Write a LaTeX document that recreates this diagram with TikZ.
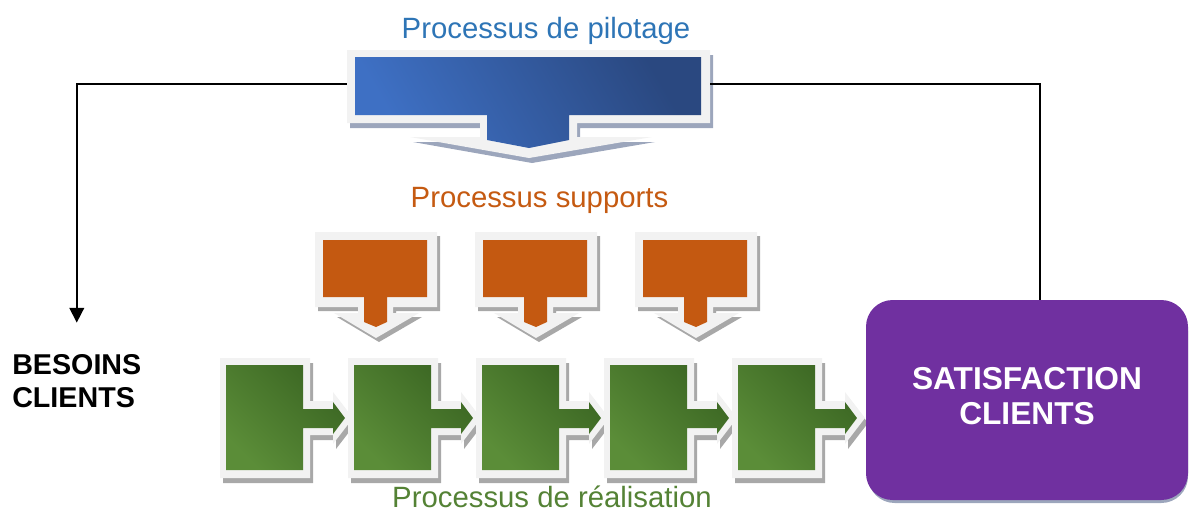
\documentclass[tikz,border=0pt]{standalone}
\usepackage{fontspec}
\setmainfont{Liberation Sans}
\usetikzlibrary{arrows.meta,calc}

\definecolor{pilottext}{HTML}{2E75B6}
\definecolor{supporttext}{HTML}{C55A11}
\definecolor{realtext}{HTML}{548235}
\definecolor{bluelight}{HTML}{3E70C4}
\definecolor{bluedark}{HTML}{2A4880}
\definecolor{supportfill}{HTML}{C45911}
\definecolor{greenlight}{HTML}{5B8D38}
\definecolor{greendark}{HTML}{3B6623}
\definecolor{clientfill}{HTML}{7030A0}
\definecolor{framegray}{HTML}{F2F2F2}
\definecolor{shadowgray}{HTML}{A8A8A8}
\definecolor{shadowblue}{HTML}{9CA6BC}

\begin{document}
\begin{tikzpicture}[x=0.75pt,y=-0.75pt]
  \tikzstyle{frame}=[fill=framegray];
  \tikzstyle{shadow}=[fill=shadowgray];
  \tikzstyle{title}=[anchor=base,font=\fontsize{22}{26}\selectfont];
  \tikzstyle{link}=[line width=1.2pt];

  \useasboundingbox (0,0) rectangle (1190,512);

  % pilotage
  \node[inner sep=0,minimum width=272.25pt,minimum height=51pt] (pilotage) at (528.5,84) {};
  \fill[shadowblue, shift={(3,5)}] (347,50) -- (710,50) -- (710,123) -- (577,123) -- (577,137) -- (652,137) -- (529,158) -- (410,137) -- (480,137) -- (480,123) -- (347,123) -- cycle;
  \fill[frame] (347,50) -- (710,50) -- (710,123) -- (577,123) -- (577,137) -- (652,137) -- (529,158) -- (410,137) -- (480,137) -- (480,123) -- (347,123) -- cycle;
  \shade[top color=bluedark, bottom color=bluelight, shading angle=-60] (355,57) -- (701,57) -- (701,115) -- (569,115) -- (569,140) -- (529,148) -- (487,140) -- (487,115) -- (355,115) -- cycle;
  \node[title, text=pilottext] (pilottitle) at (546,38) {Processus de pilotage};

  % supports
  \node[title, text=supporttext] (supporttitle) at (539.5,207) {Processus supports};
  \foreach \c in {376,536,696}
    \fill[shadow, shift={(3,4)}] (\c-61,232) -- (\c+61,232) -- (\c+61,307) -- (\c+17,307) -- (\c+17,313) -- (\c+43,313) -- (\c,338) -- (\c-42,313) -- (\c-18,313) -- (\c-18,307) -- (\c-61,307) -- cycle;
  \foreach \c in {376,536,696} {
    \fill[frame] (\c-61,232) -- (\c+61,232) -- (\c+61,307) -- (\c+17,307) -- (\c+17,313) -- (\c+43,313) -- (\c,338) -- (\c-42,313) -- (\c-18,313) -- (\c-18,307) -- (\c-61,307) -- cycle;
    \fill[supportfill] (\c-53,240) -- (\c+51,240) -- (\c+51,297) -- (\c+11,297) -- (\c+11,322) -- (\c,327) -- (\c-12,322) -- (\c-12,297) -- (\c-53,297) -- cycle;
  }

  % realisation
  \foreach \x in {226,354,482,610,738}
    \fill[shadow, shift={(3,5)}] (\x-6,358) -- (\x+84,358) -- (\x+84,401) -- (\x+107,401) -- (\x+107,392) -- (\x+127,418) -- (\x+107,444) -- (\x+107,435) -- (\x+84,435) -- (\x+84,478) -- (\x-6,478) -- cycle;
  \foreach \x in {226,354,482,610,738}
    \fill[frame] (\x-6,358) -- (\x+84,358) -- (\x+84,401) -- (\x+107,401) -- (\x+107,392) -- (\x+127,418) -- (\x+107,444) -- (\x+107,435) -- (\x+84,435) -- (\x+84,478) -- (\x-6,478) -- cycle;
  \foreach \x in {226,354,482,610,738}
    \shade[top color=greendark, bottom color=greenlight, shading angle=-45] (\x,365) -- (\x+77,365) -- (\x+77,409) -- (\x+107,409) -- (\x+107,402) -- (\x+119,418) -- (\x+107,434) -- (\x+107,428) -- (\x+77,428) -- (\x+77,470) -- (\x,470) -- cycle;
  \node[title, text=realtext] (realtitle) at (552,507) {Processus de réalisation};

  % clients
  \fill[shadowblue, rounded corners=20pt] (868,304) rectangle (1188,503);
  \node[fill=clientfill, rounded corners=20pt, minimum width=241.5pt, minimum height=150pt, text=white, align=center, text depth=6pt, font=\bfseries\fontsize{23.75}{26.5}\selectfont] (satisf) at (1027,400) {SATISFACTION\\CLIENTS};
  \node[anchor=west, inner sep=0, align=left, font=\bfseries\fontsize{21.5}{24.75}\selectfont] (besoins) at (12,381.5) {BESOINS\\CLIENTS};

  \draw[link, -{Triangle[width=11pt,length=11pt]}, shorten >=24pt] (pilotage.west) -| (besoins.north);
  \draw[link] (pilotage.east) -| ($(satisf.north)+(13,0)$);
\end{tikzpicture}
\end{document}
